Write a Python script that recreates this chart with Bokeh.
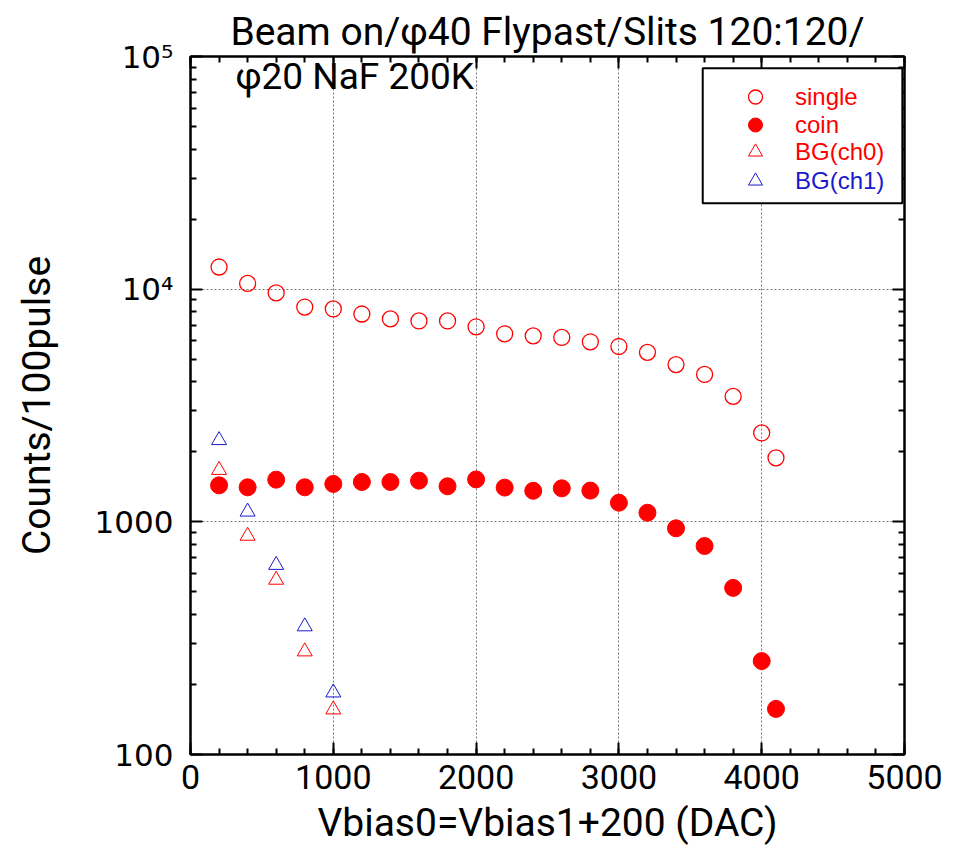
from bokeh.plotting import figure
from bokeh.models import (FixedTicker, LinearAxis, LogAxis, Legend, LegendItem,
                          Label, BoxAnnotation, Title)
from bokeh.embed import file_html
from bokeh.resources import INLINE

# ---- data ----
x_main = [200, 400, 600, 800, 1000, 1200, 1400, 1600, 1800, 2000, 2200, 2400,
          2600, 2800, 3000, 3200, 3400, 3600, 3800, 4000, 4100]
single = [12450, 10580, 9640, 8380, 8220, 7820, 7450, 7300, 7300, 6890, 6430,
          6300, 6200, 5940, 5670, 5350, 4740, 4300, 3460, 2410, 1884]
coin = [1435, 1407, 1518, 1407, 1455, 1483, 1483, 1503, 1421, 1522, 1403,
        1359, 1393, 1362, 1208, 1094, 938, 787, 520, 252, 157]
x_bg = [200, 400, 600, 800, 1000]
bg_ch0 = [1669, 870, 563, 277, 156]
bg_ch1 = [2242, 1105, 652, 355, 184.5]

x_ticks = [0, 1000, 2000, 3000, 4000, 5000]
x_minor = [v for v in range(0, 5001, 200)]
y_ticks = [100, 1000, 10000, 100000]
y_tick_labels = ["100", "1000", "10\u2074", "10\u2075"]
y_minor = [m * d for d in (100, 1000, 10000) for m in range(2, 10)]

title_text = "Beam on/\u03c640 Flypast/Slits 120:120/"
subtitle_text = "\u03c620 NaF 200K"
x_label = "Vbias0=Vbias1+200 (DAC)"
y_label = "Counts/100pulse"
legend_labels = ["single", "coin", "BG(ch0)", "BG(ch1)"]

NARROW = "Roboto"
WIDE = "DejaVu Sans"
RED = "#ff0000"
BLUE = "#1a1acc"

p = figure(width=948, height=848, x_range=(0, 5000), y_range=(100, 100000),
           y_axis_type="log", output_backend="svg", toolbar_location=None,
           min_border_left=190, min_border_right=44, min_border_top=56,
           min_border_bottom=88, title=None)
p.background_fill_color = "white"
p.outline_line_color = "black"
p.outline_line_width = 2

# grid
for g in (p.xgrid, p.ygrid):
    g.grid_line_color = "#777777"
    g.grid_line_dash = "2 2"
    g.grid_line_width = 1
p.xgrid.ticker = FixedTicker(ticks=x_ticks)
p.ygrid.ticker = FixedTicker(ticks=y_ticks)


def style_axis(ax, show_labels):
    ax.axis_line_color = "black"
    ax.axis_line_width = 2
    ax.major_tick_in = 12
    ax.major_tick_out = 0
    ax.minor_tick_in = 6
    ax.minor_tick_out = 0
    ax.major_tick_line_width = 2
    ax.minor_tick_line_width = 2
    ax.major_tick_line_color = "black"
    ax.minor_tick_line_color = "black"
    ax.major_label_text_color = "black"
    ax.axis_label_text_color = "black"
    if not show_labels:
        ax.major_label_text_font_size = "0px"
        ax.major_label_text_alpha = 0


xax = p.xaxis[0]
yax = p.yaxis[0]
xax.ticker = FixedTicker(ticks=x_ticks, minor_ticks=x_minor)
yax.ticker = FixedTicker(ticks=y_ticks, minor_ticks=y_minor)
style_axis(xax, True)
style_axis(yax, True)
xax.major_label_text_font = NARROW
xax.major_label_text_font_size = "34px"
xax.major_label_standoff = 10
xax.axis_label = x_label
xax.axis_label_text_font = NARROW
xax.axis_label_text_font_size = "39px"
xax.axis_label_text_font_style = "normal"
xax.axis_label_standoff = 8
yax.major_label_overrides = {t: s for t, s in zip(y_ticks, y_tick_labels)}
yax.major_label_text_font = WIDE
yax.major_label_text_font_size = "31px"
yax.major_label_standoff = 17
yax.axis_label = y_label
yax.axis_label_text_font = NARROW
yax.axis_label_text_font_size = "39px"
yax.axis_label_text_font_style = "normal"
yax.axis_label_standoff = 32

top = LinearAxis(ticker=FixedTicker(ticks=x_ticks, minor_ticks=x_minor))
style_axis(top, False)
p.add_layout(top, "above")
right = LogAxis(ticker=FixedTicker(ticks=y_ticks, minor_ticks=y_minor))
style_axis(right, False)
p.add_layout(right, "right")

p.add_layout(Title(text=title_text, align="center", text_font=NARROW,
                   text_font_size="39px", text_font_style="normal",
                   text_color="black", standoff=4), "above")

# data glyphs
r_single = p.scatter(x_main, single, marker="circle", size=16,
                     fill_color=None, line_color=RED, line_width=1.3)
r_coin = p.scatter(x_main, coin, marker="circle", size=17,
                   fill_color=RED, line_color=RED)
r_bg0 = p.scatter(x_bg, bg_ch0, marker="triangle", size=15,
                  fill_color=None, line_color=RED, line_width=1)
r_bg1 = p.scatter(x_bg, bg_ch1, marker="triangle", size=15,
                  fill_color=None, line_color=BLUE, line_width=1)

p.add_layout(Label(x=315, y=81900, text=subtitle_text, text_font=NARROW,
                   text_font_size="37px", text_baseline="middle",
                   text_color="black"))

# legend frame
p.add_layout(BoxAnnotation(left=3587, right=4985, top=89000, bottom=23400,
                           fill_color="white", fill_alpha=1,
                           line_color="black", line_alpha=1, line_width=2))

# one single-item legend per row, so rows can sit closer than the glyph box
renderers = [r_single, r_coin, r_bg0, r_bg1]
colors = [RED, RED, RED, BLUE]
row_y = [640, 612, 585, 556]
for lab, rend, col, yy in zip(legend_labels, renderers, colors, row_y):
    lg = Legend(items=[LegendItem(label=lab, renderers=[rend])],
                location=(545, yy))
    lg.label_text_color = col
    lg.label_text_font = "Liberation Sans"
    lg.label_text_font_size = "24px"
    lg.background_fill_alpha = 0
    lg.border_line_alpha = 0
    lg.padding = 0
    lg.margin = 0
    lg.spacing = 0
    lg.glyph_width = 40
    lg.glyph_height = 35
    lg.label_height = 20
    lg.label_standoff = 20
    p.add_layout(lg)

open("out.html", "w").write(file_html(p, INLINE))
